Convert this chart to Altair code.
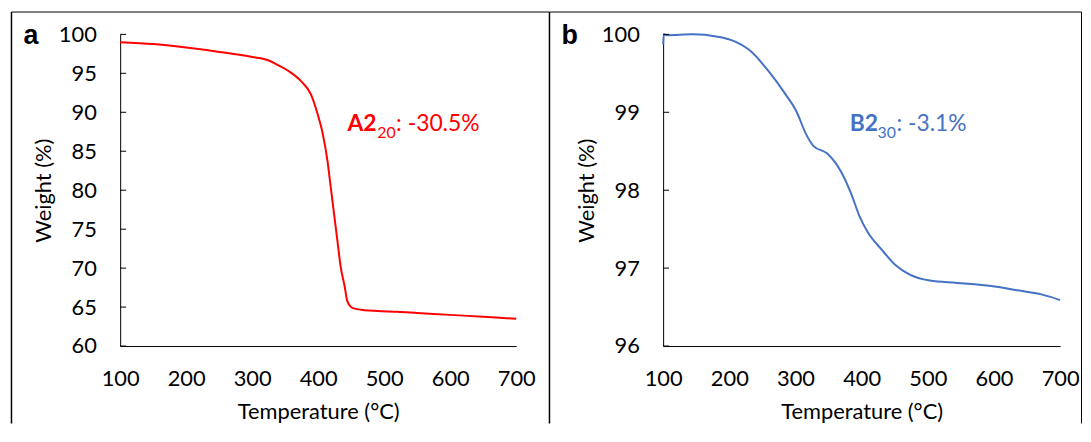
import altair as alt
import pandas as pd

# ---- data ----
temp_a = [100, 150, 200, 250, 300, 325, 339, 355, 374, 389, 399, 407, 414, 419, 424, 429, 434, 440, 444, 452, 470, 490, 520, 550, 600, 650, 700]
weight_a = [99.0, 98.75, 98.3, 97.75, 97.1, 96.65, 96.05, 95.3, 94.0, 92.3, 89.8, 87.2, 83.8, 80.4, 77.0, 73.6, 70.2, 67.7, 65.8, 64.9, 64.6, 64.5, 64.4, 64.25, 64.0, 63.75, 63.5]

temp_b = [100, 101, 105, 145, 182, 208, 233, 259, 285, 301, 316, 327, 348, 368, 384, 397, 410, 430, 451, 472, 503, 544, 596, 632, 673, 700]
weight_b = [99.87, 100.0, 99.99, 100.0, 99.97, 99.91, 99.78, 99.53, 99.23, 99.02, 98.72, 98.57, 98.47, 98.25, 97.96, 97.66, 97.45, 97.24, 97.04, 96.92, 96.84, 96.81, 96.77, 96.72, 96.66, 96.59]

x_ticks = [100, 200, 300, 400, 500, 600, 700]
y_ticks_a = [60, 65, 70, 75, 80, 85, 90, 95, 100]
y_ticks_b = [96, 97, 98, 99, 100]

FONT = "Lato"
RED = "#FF0000"
BLUE = "#4472C4"
H = 314
FS = 22


def panel(temps, weights, yticks, ydomain, color, width, letter,
          ann_main, ann_sub, ann_rest, ann_x, sub_dx, rest_dx,
          frame_left, frame_right, right_rule):
    df = pd.DataFrame({"t": temps, "w": weights})
    one = pd.DataFrame({"d": [0]})
    xs = alt.Scale(domain=[100, 700], nice=False, zero=False)
    ys = alt.Scale(domain=ydomain, nice=False, zero=False)
    yaxis = alt.Axis(
        values=yticks, title="Weight (%)", ticks=False, tickSize=0,
        labelPadding=24, labelFont=FONT, labelFontSize=FS, labelColor="#000",
        labelOverlap=False, domainColor="#000", grid=False,
        titleFont=FONT, titleFontSize=FS, titleFontWeight="normal", titleColor="#000",
        titleX=-77, titleY=H / 2, titleAlign="center", titleBaseline="middle",
        titleAngle=270)

    line = alt.Chart(df).mark_line(color=color, strokeWidth=2, interpolate="monotone").encode(
        x=alt.X("t:Q", scale=xs, axis=alt.Axis(
            values=x_ticks, title="Temperature (°C)", ticks=False, tickSize=0,
            labelPadding=23, labelFont=FONT, labelFontSize=FS, labelColor="#000",
            labelFlush=False, labelOverlap=False, domainColor="#000", grid=False,
            titleFont=FONT, titleFontSize=FS, titleFontWeight="normal", titleColor="#000",
            titleY=73, titleBaseline="alphabetic")),
        y=alt.Y("w:Q", scale=ys, axis=yaxis),
        order=alt.Order("t:Q"),
    )

    tick_df = pd.DataFrame({"w": yticks})
    ticks = alt.Chart(tick_df).mark_rule(color="#000", strokeWidth=1).encode(
        y=alt.Y("w:Q", scale=ys, axis=yaxis),
        x=alt.value(0), x2=alt.value(6),
    )

    top_y = -22.5
    bottom_y = 392
    frame_top = alt.Chart(one).mark_rule(color="#000", strokeWidth=1).encode(
        x=alt.value(frame_left), x2=alt.value(width + frame_right), y=alt.value(top_y))
    frame_l = alt.Chart(one).mark_rule(color="#000", strokeWidth=1.5).encode(
        x=alt.value(frame_left), y=alt.value(top_y), y2=alt.value(bottom_y))
    layers = [frame_top, frame_l]
    if right_rule:
        layers.append(alt.Chart(one).mark_rule(color="#000", strokeWidth=1).encode(
            x=alt.value(width + frame_right), y=alt.value(top_y), y2=alt.value(bottom_y)))

    letter_t = alt.Chart(one).mark_text(
        font="Liberation Sans", fontWeight="bold", fontSize=27, align="left",
        baseline="alphabetic", color="#000").encode(
        x=alt.value(frame_left + 12), y=alt.value(10), text=alt.value(letter))

    a1 = alt.Chart(one).mark_text(font=FONT, fontWeight="bold", fontSize=23, align="left",
                                  baseline="alphabetic", color=color).encode(
        x=alt.value(ann_x), y=alt.value(97), text=alt.value(ann_main))
    a2 = alt.Chart(one).mark_text(font=FONT, fontSize=16, align="left",
                                  baseline="alphabetic", color=color).encode(
        x=alt.value(ann_x + sub_dx), y=alt.value(104), text=alt.value(ann_sub))
    a3 = alt.Chart(one).mark_text(font=FONT, fontSize=23, align="left",
                                  baseline="alphabetic", color=color).encode(
        x=alt.value(ann_x + rest_dx), y=alt.value(97), text=alt.value(ann_rest))

    return alt.layer(*layers, line, ticks, letter_t, a1, a2, a3).properties(
        width=width, height=H)


# plot areas: a at x 121..520, b at x 668..1068, both y 33..347 (page coords)
pa = panel(temp_a, weight_a, y_ticks_a, [60, 100], RED, 399, "a",
           "A2", "20", ": -30.5%", 229, 30, 49, -109.5, 33, False)
pb = panel(temp_b, weight_b, y_ticks_b, [96, 100], BLUE, 400, "b",
           "B2", "30", ": -3.1%", 188, 28, 47, -114.5, 21.5, True)

chart = alt.hconcat(pa, pb, spacing=148, bounds="flush").properties(
    autosize=alt.AutoSizeParams(type="none"),
    padding={"left": 113, "top": 25, "right": 970, "bottom": 80},
).configure_view(stroke=None)

chart.save("out.html", embed_options={"renderer": "svg", "actions": False})
